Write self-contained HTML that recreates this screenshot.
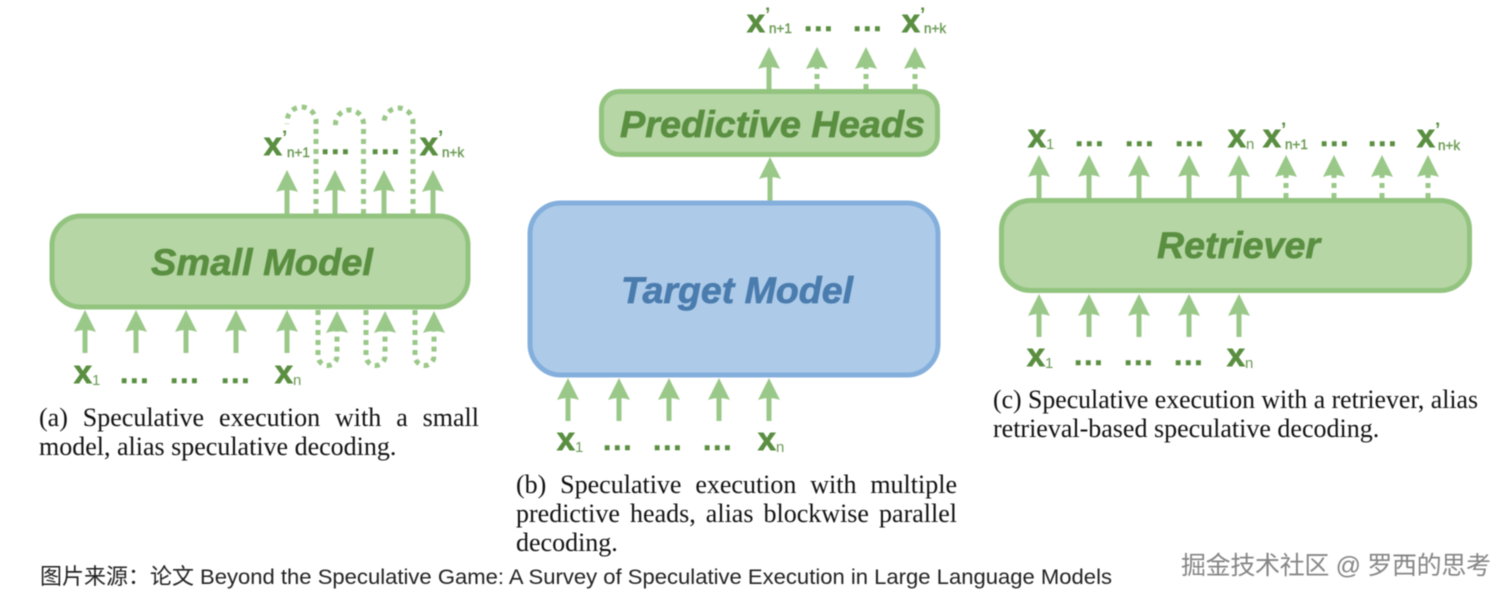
<!DOCTYPE html>
<html><head><meta charset="utf-8">
<style>
html,body{margin:0;padding:0;background:#fff}
#p{position:relative;width:1510px;height:597px;overflow:hidden;background:#fff;filter:blur(.4px)}
svg{position:absolute;left:0;top:0}
.c{position:absolute;font:26px/29px "Liberation Serif",serif;color:#111;white-space:nowrap}
.j{text-align:justify;text-align-last:justify;white-space:normal}
.x{font:bold 32px "Liberation Sans",sans-serif;fill:#5a8f41;stroke:#5a8f41;stroke-width:.9px}
.s{font:15px "Liberation Sans",sans-serif;fill:#6c9c56}
.sb{font:13.5px "Liberation Sans",sans-serif;fill:#6c9c56;stroke:#6c9c56;stroke-width:.4px}
.ap{font:bold 19px "Liberation Sans",sans-serif;fill:#5a8f41}
.d{font:bold 30px "Liberation Sans",sans-serif;fill:#5a8f41;stroke:#5a8f41;stroke-width:.6px;letter-spacing:1.8px}
.t{font:italic bold 37px "Liberation Sans",sans-serif;fill:#5a8f41;stroke:#5a8f41;stroke-width:.7px}
.a{fill:#9ac888}
.l{stroke:#9ac888;stroke-width:5;fill:none}
.o{stroke:#9ac888;stroke-width:5;fill:none;stroke-dasharray:5 5}
</style></head><body><div id="p">
<svg width="1510" height="597" viewBox="0 0 1510 597">
<defs>
<path id="h" d="M0 0L11 22Q0 18 -11 22Z" class="a"/>
</defs>

<!-- (a) -->
<path class="o" d="M316 214V121.500A14.500 14.500 0 0 0 287 121.500V124"/>
<path class="o" d="M363.500 214V124A14 14 0 0 0 335.500 124V126"/>
<path class="o" d="M413 214V122.500A14.500 14.500 0 0 0 384 122.500V124"/>
<path class="o" d="M318 310V356A9.500 9.500 0 0 0 337 356V330"/>
<path class="o" d="M366 310V356A9.500 9.500 0 0 0 385 356V330"/>
<path class="o" d="M415 310V356A9.500 9.500 0 0 0 434 356V330"/>
<g class="l">
<path d="M287 190V216M335 190V216M384 190V216M433 190V216"/>
<path d="M85 330V353M136 330V353M186 330V353M236 330V353M287 330V353"/>
</g>
<use href="#h" x="287" y="170"/><use href="#h" x="335" y="170"/><use href="#h" x="384" y="170"/><use href="#h" x="433" y="170"/>
<use href="#h" x="85" y="310"/><use href="#h" x="136" y="310"/><use href="#h" x="186" y="310"/><use href="#h" x="236" y="310"/><use href="#h" x="287" y="310"/>
<use href="#h" x="337" y="311"/><use href="#h" x="385" y="311"/><use href="#h" x="434" y="311"/>
<rect x="52" y="216" width="416" height="91" rx="29" fill="#b6d6a5" stroke="#93c47f" stroke-width="5"/>
<text class="t" x="151" y="275" textLength="222" lengthAdjust="spacingAndGlyphs">Small Model</text>
<text class="x" x="74" y="383">x</text><text class="s" x="92" y="385">1</text>
<text class="d" x="120" y="383">...</text><text class="d" x="170" y="383">...</text><text class="d" x="221" y="383">...</text>
<text class="x" x="275" y="383">x</text><text class="s" x="293" y="385">n</text>
<text class="x" x="264" y="155">x</text><text class="ap" x="282" y="144">’</text><text class="sb" x="287" y="157">n+1</text>
<text class="d" x="321" y="154">...</text><text class="d" x="371" y="154">...</text>
<text class="x" x="420" y="155">x</text><text class="ap" x="438" y="144">’</text><text class="sb" x="442" y="157">n+k</text>

<!-- (b) -->
<g class="l"><path d="M769 66V91M770 176V203"/><path d="M568 398V421M619 398V421M669 398V421M719 398V421M769 398V421"/></g>
<path class="o" d="M817 89V64M866 89V64M915 89V64"/>
<use href="#h" x="769" y="47"/><use href="#h" x="817" y="47"/><use href="#h" x="866" y="47"/><use href="#h" x="915" y="47"/>
<use href="#h" x="770" y="157"/>
<use href="#h" x="568" y="378"/><use href="#h" x="619" y="378"/><use href="#h" x="669" y="378"/><use href="#h" x="719" y="378"/><use href="#h" x="769" y="378"/>
<rect x="601.500" y="91.500" width="336" height="63" rx="18" fill="#b6d6a5" stroke="#93c47f" stroke-width="5"/>
<text class="t" x="620" y="137" textLength="305" lengthAdjust="spacingAndGlyphs">Predictive Heads</text>
<rect x="530" y="203" width="408" height="172" rx="31" fill="#adcbe9" stroke="#84afdc" stroke-width="5"/>
<text class="t" x="621" y="303" textLength="232" lengthAdjust="spacingAndGlyphs" style="fill:#4b7cae;stroke:#4b7cae">Target Model</text>
<text class="x" x="747" y="32">x</text><text class="ap" x="765" y="21">’</text><text class="sb" x="769" y="33">n+1</text>
<text class="d" x="804" y="31">...</text><text class="d" x="853" y="31">...</text>
<text class="x" x="902" y="32">x</text><text class="ap" x="920" y="21">’</text><text class="sb" x="924" y="33">n+k</text>
<text class="x" x="557" y="450">x</text><text class="s" x="575" y="452">1</text>
<text class="d" x="603" y="450">...</text><text class="d" x="653" y="450">...</text><text class="d" x="703" y="450">...</text>
<text class="x" x="758" y="450">x</text><text class="s" x="776" y="452">n</text>

<!-- (c) -->
<g class="l">
<path d="M1039 175V200M1089 175V200M1139 175V200M1189 175V200M1239 175V200"/>
<path d="M1039 314V337M1089 314V337M1139 314V337M1189 314V337M1239 314V337"/>
</g>
<path class="o" d="M1286 198V172M1334 198V172M1382 198V172M1428 198V172"/>
<use href="#h" x="1039" y="155"/><use href="#h" x="1089" y="155"/><use href="#h" x="1139" y="155"/><use href="#h" x="1189" y="155"/><use href="#h" x="1239" y="155"/>
<use href="#h" x="1286" y="155"/><use href="#h" x="1334" y="155"/><use href="#h" x="1382" y="155"/><use href="#h" x="1428" y="155"/>
<use href="#h" x="1039" y="294"/><use href="#h" x="1089" y="294"/><use href="#h" x="1139" y="294"/><use href="#h" x="1189" y="294"/><use href="#h" x="1239" y="294"/>
<rect x="1001.500" y="200.500" width="468" height="90" rx="29" fill="#b6d6a5" stroke="#93c47f" stroke-width="5"/>
<text class="t" x="1157" y="258" textLength="163" lengthAdjust="spacingAndGlyphs">Retriever</text>
<text class="x" x="1028" y="147">x</text><text class="s" x="1046" y="149">1</text>
<text class="d" x="1075" y="146">...</text><text class="d" x="1125" y="146">...</text><text class="d" x="1175" y="146">...</text>
<text class="x" x="1228" y="147">x</text><text class="s" x="1246" y="149">n</text>
<text class="x" x="1263" y="147">x</text><text class="ap" x="1281" y="136">’</text><text class="sb" x="1285" y="149">n+1</text>
<text class="d" x="1320" y="146">...</text><text class="d" x="1368" y="146">...</text>
<text class="x" x="1417" y="147">x</text><text class="ap" x="1435" y="136">’</text><text class="sb" x="1438" y="150">n+k</text>
<text class="x" x="1027" y="366">x</text><text class="s" x="1045" y="368">1</text>
<text class="d" x="1074" y="365">...</text><text class="d" x="1124" y="365">...</text><text class="d" x="1174" y="365">...</text>
<text class="x" x="1227" y="366">x</text><text class="s" x="1245" y="368">n</text>

<text x="993" y="408" font-family="'Liberation Serif',serif" font-size="26" fill="#111" textLength="485" lengthAdjust="spacingAndGlyphs">(c) Speculative execution with a retriever, alias</text>

<text x="40" y="584" font-family="'Noto Sans CJK SC',sans-serif" font-size="22" fill="#222">图片来源：论文</text>
<text x="200" y="584" font-family="'Liberation Sans',sans-serif" font-size="21" fill="#222" textLength="912" lengthAdjust="spacingAndGlyphs">Beyond the Speculative Game: A Survey of Speculative Execution in Large Language Models</text>
<text x="1182" y="575" font-family="'Liberation Sans','Noto Sans CJK SC',sans-serif" font-size="25" fill="#fff" textLength="310">掘金技术社区 @ 罗西的思考</text>
<text x="1181" y="574" font-family="'Liberation Sans','Noto Sans CJK SC',sans-serif" font-size="25" fill="#858585" textLength="310">掘金技术社区 @ 罗西的思考</text>
</svg>

<div class="c j" style="left:39px;top:403px;width:440px">(a) Speculative execution with a small</div>
<div class="c" style="left:39px;top:432px">model, alias speculative decoding.</div>
<div class="c j" style="left:516px;top:470px;width:441px">(b) Speculative execution with multiple</div>
<div class="c j" style="left:516px;top:499px;width:441px">predictive heads, alias blockwise parallel</div>
<div class="c" style="left:516px;top:528px">decoding.</div>
<div class="c" style="left:993px;top:414px">retrieval-based speculative decoding.</div>
</div></body></html>
